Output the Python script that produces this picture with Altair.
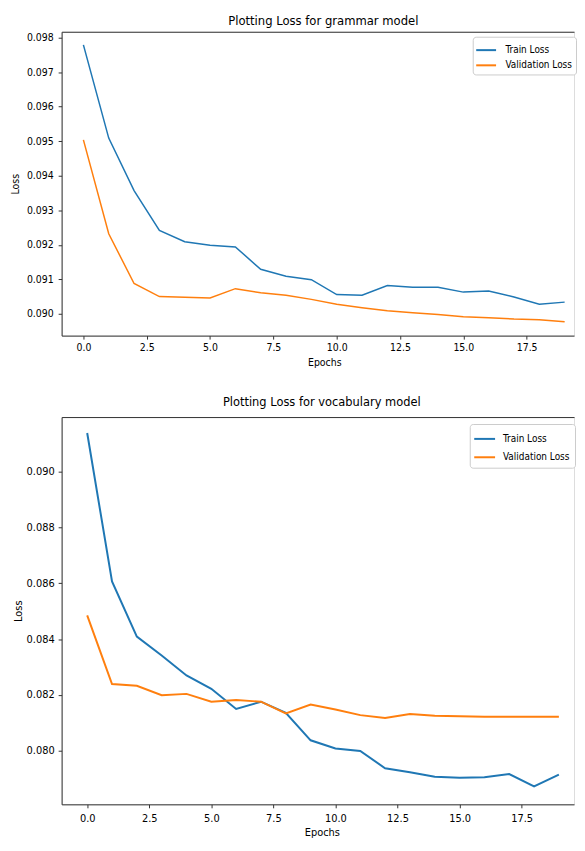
import altair as alt
import pandas as pd

epochs = list(range(20))

grammar_train = [0.09779, 0.09509, 0.09357, 0.09242, 0.09209, 0.09199, 0.09194, 0.09129,
                 0.09109, 0.09099, 0.09056, 0.09054, 0.09082, 0.09077, 0.09077, 0.09063,
                 0.09066, 0.09049, 0.09028, 0.09034]
grammar_val = [0.09504, 0.09232, 0.09088, 0.09050, 0.09048, 0.09046, 0.09073, 0.09061,
               0.09054, 0.09042, 0.09028, 0.09018, 0.09009, 0.09003, 0.08998, 0.08992,
               0.08989, 0.08985, 0.08983, 0.08977]

vocab_train = [0.09137, 0.08606, 0.08409, 0.08341, 0.08270, 0.08222, 0.08150, 0.08176,
               0.08136, 0.08038, 0.08009, 0.08000, 0.07938, 0.07924, 0.07908, 0.07904,
               0.07906, 0.07917, 0.07873, 0.07915]
vocab_val = [0.08485, 0.08239, 0.08233, 0.08199, 0.08204, 0.08176, 0.08182, 0.08176,
             0.08134, 0.08166, 0.08148, 0.08128, 0.08118, 0.08132, 0.08126, 0.08124,
             0.08122, 0.08122, 0.08122, 0.08122]

series_names = ["Train Loss", "Validation Loss"]
series_colors = ["#1f77b4", "#ff7f0e"]
x_ticks = [0.0, 2.5, 5.0, 7.5, 10.0, 12.5, 15.0, 17.5]
grammar_y_ticks = [0.090, 0.091, 0.092, 0.093, 0.094, 0.095, 0.096, 0.097, 0.098]
vocab_y_ticks = [0.080, 0.082, 0.084, 0.086, 0.088, 0.090]

FONT = "DejaVu Sans Condensed, DejaVu Sans"
FRAME = "#333333"
LEGEND_SHAPE = "M-1.2,0L1.2,0"


def long_table(train, val):
    rows = []
    for e, t, v in zip(epochs, train, val):
        rows.append({"Epoch": e, "Loss": t, "Series": series_names[0]})
        rows.append({"Epoch": e, "Loss": v, "Series": series_names[1]})
    return pd.DataFrame(rows)


def panel(df, title, ydom, yticks, xdom, width, height, title_fs, label_fs,
          legend_fs, legend_xy, sym_size, leg_pad, row_pad, label_offset,
          stroke_w, title_dx, title_offset, x_title_x, y_label_pad,
          x_label_pad, x_title_pad, y_title_pad):
    xscale = alt.Scale(domain=xdom, nice=False, zero=False)
    yscale = alt.Scale(domain=ydom, nice=False, zero=False)
    color = alt.Color(
        "Series:N",
        scale=alt.Scale(domain=series_names, range=series_colors),
        legend=alt.Legend(
            title=None, orient="none", legendX=legend_xy[0], legendY=legend_xy[1],
            symbolType=LEGEND_SHAPE, symbolSize=sym_size, symbolStrokeWidth=2,
            labelFont=FONT, labelFontSize=legend_fs, labelColor="black",
            fillColor="white", strokeColor="#cccccc", cornerRadius=3,
            padding=leg_pad, rowPadding=row_pad, labelOffset=label_offset,
        ),
    )
    lines = alt.Chart(df).mark_line(strokeWidth=stroke_w).encode(
        x=alt.X("Epoch:Q", scale=xscale,
                axis=alt.Axis(values=x_ticks, format=".1f", title="Epochs",
                              titleX=x_title_x, titleFont=FONT,
                              titleFontSize=label_fs, titleFontWeight="normal",
                              titleColor="black", labelFont=FONT,
                              labelFontSize=label_fs, labelColor="black",
                              tickColor=FRAME, tickSize=3.5, tickWidth=1,
                              domain=True, domainColor=FRAME, domainWidth=1,
                              grid=False, labelPadding=x_label_pad,
                              titlePadding=x_title_pad)),
        y=alt.Y("Loss:Q", scale=yscale,
                axis=alt.Axis(values=yticks, format=".3f", title="Loss",
                              titleFont=FONT, titleFontSize=label_fs,
                              titleFontWeight="normal", titleColor="black",
                              labelFont=FONT, labelFontSize=label_fs,
                              labelColor="black", tickColor=FRAME,
                              tickSize=3.5, tickWidth=1, domain=True,
                              domainColor=FRAME, domainWidth=1,
                              grid=False, labelPadding=y_label_pad,
                              titlePadding=y_title_pad)),
        color=color,
    )
    # invisible copy of the lines that only carries the top frame edge
    top_edge = alt.Chart(df).mark_line(opacity=0).encode(
        x=alt.X("Epoch:Q", scale=xscale,
                axis=alt.Axis(orient="top", labels=False, ticks=False, title=None,
                              grid=False, domain=True, domainColor=FRAME,
                              domainWidth=1)),
        y=alt.Y("Loss:Q", scale=yscale, axis=None),
    )
    return (
        alt.layer(lines, top_edge)
        .resolve_axis(x="independent", y="independent")
        .properties(width=width, height=height,
                    title=alt.Title(title, font=FONT, fontSize=title_fs,
                                    fontWeight="normal", color="black",
                                    dx=title_dx, offset=title_offset))
    )


top = panel(long_table(grammar_train, grammar_val), "Plotting Loss for grammar model",
            [0.08937, 0.09817], grammar_y_ticks, [-0.86, 19.37], 516, 306,
            13, 10.5, 10, (414, 5), 278, 4, 0.3, 10, 1.5, 5.5, 4,
            264.5, 5, 3, 5, 6)

bottom = panel(long_table(vocab_train, vocab_val), "Plotting Loss for vocabulary model",
               [0.07809, 0.09194], vocab_y_ticks, [-1.03, 19.61], 516, 390,
               12.8, 11, 10, (411, 7), 306, 5, 3.5, 8.5, 2, 4, 8,
               262, 4, 5, 3, 3)

chart = (
    alt.vconcat(top, bottom, spacing=27)
    .properties(padding={"top": 3, "left": 1, "right": 0, "bottom": 0})
    .resolve_scale(color="independent")
    .configure_view(stroke=None)
    .configure(background="white")
)

chart.save("out.html", embed_options={"renderer": "svg", "actions": False})
